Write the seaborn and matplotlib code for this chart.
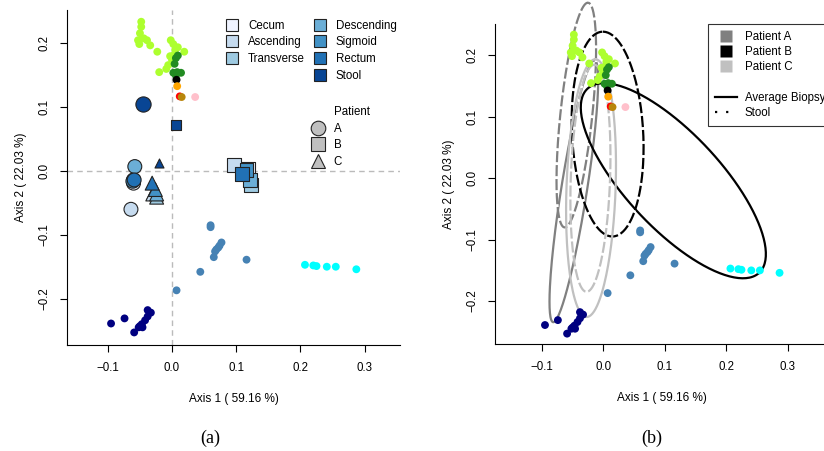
import matplotlib
matplotlib.use("Agg")
import matplotlib.pyplot as plt
from matplotlib.lines import Line2D
import numpy as np
import pandas as pd
import seaborn as sns

# ---- sample points (PCoA axis 1 / axis 2), one list pair per sample group ----
greenyellow_x = [-0.048, -0.048, -0.050, -0.053, -0.051, -0.044, -0.039, -0.034, -0.023, -0.020,
                 -0.002, 0.002, 0.005, 0.009, 0.019, -0.003, 0.000, -0.006, -0.009, 0.003]
greenyellow_y = [0.234, 0.226, 0.216, 0.205, 0.199, 0.208, 0.205, 0.197, 0.187, 0.155,
                 0.205, 0.199, 0.190, 0.194, 0.187, 0.180, 0.174, 0.166, 0.160, 0.182]
forestgreen_x = [0.006, 0.009, 0.004, 0.002, 0.008, 0.014, 0.006]
forestgreen_y = [0.177, 0.181, 0.168, 0.154, 0.155, 0.154, 0.150]
black_x, black_y = [0.007], [0.143]
orange_x, orange_y = [0.008], [0.133]
red_x, red_y = [0.012], [0.117]
gold_x, gold_y = [0.015], [0.116]
pink_x, pink_y = [0.036], [0.116]
steelblue_x = [0.060, 0.060, 0.077, 0.074, 0.072, 0.069, 0.067, 0.065, 0.116, 0.044, 0.007]
steelblue_y = [-0.085, -0.088, -0.112, -0.117, -0.120, -0.123, -0.126, -0.135, -0.139, -0.158, -0.187]
cyan_x = [0.207, 0.220, 0.225, 0.241, 0.255, 0.287]
cyan_y = [-0.147, -0.148, -0.149, -0.150, -0.150, -0.154]
navy_x = [-0.095, -0.074, -0.059, -0.050, -0.047, -0.042, -0.038, -0.038, -0.033, -0.046, -0.052]
navy_y = [-0.239, -0.231, -0.253, -0.243, -0.240, -0.234, -0.228, -0.218, -0.222, -0.245, -0.245]

# ---- per-patient centroids by location ----
locations = ["Cecum", "Ascending", "Transverse", "Descending", "Sigmoid", "Rectum", "Stool"]
patients = ["A", "B", "C"]
a_x = [-0.060, -0.064, -0.060, -0.058, -0.061, -0.059, -0.045]
a_y = [-0.019, -0.060, -0.014, 0.007, -0.016, -0.014, 0.105]
b_x = [0.118, 0.096, 0.123, 0.121, 0.116, 0.109, 0.006]
b_y = [0.003, 0.009, -0.022, -0.014, 0.002, -0.004, 0.072]
c_x = [-0.028, -0.030, -0.024, -0.024, -0.026, -0.031, -0.020]
c_y = [-0.033, -0.036, -0.041, -0.036, -0.029, -0.019, 0.012]

# ---- ellipses for panel (b): centre, semi-axes, angle ----
ell_patient = ["A", "A", "B", "B", "C", "C"]
ell_kind = ["Biopsy", "Stool", "Biopsy", "Stool", "Biopsy", "Stool"]
ell_cx = [-0.048, -0.044, 0.114, 0.007, -0.020, -0.021]
ell_cy = [-0.021, 0.103, -0.004, 0.072, -0.016, 0.000]
ell_a = [0.216, 0.184, 0.205, 0.167, 0.210, 0.185]
ell_b = [0.021, 0.026, 0.077, 0.058, 0.040, 0.032]
ell_ang = [81, 84, -47, 93, 88, 88]

# ---- styles ----
group_colors = {"greenyellow": "#ADFF2F", "forestgreen": "#228B22", "black": "black",
                "orange": "#FFA500", "red": "red", "gold": "#B8860B", "pink": "#FFC0CB",
                "steelblue": "#4682B4", "cyan": "#00FFFF", "navy": "#000080"}
loc_colors = dict(zip(locations, ["#EFF3FF", "#C6DBEF", "#9ECAE1", "#6BAED6",
                                  "#4292C6", "#2171B5", "#084594"]))
pat_colors = {"A": "#808080", "B": "black", "C": "#C0C0C0"}
pat_markers = {"A": "o", "B": "s", "C": "^"}

plt.rcParams["font.family"] = ["Liberation Sans", "DejaVu Sans"]

groups = {"greenyellow": (greenyellow_x, greenyellow_y), "forestgreen": (forestgreen_x, forestgreen_y),
          "black": (black_x, black_y), "orange": (orange_x, orange_y), "red": (red_x, red_y),
          "gold": (gold_x, gold_y), "pink": (pink_x, pink_y), "steelblue": (steelblue_x, steelblue_y),
          "cyan": (cyan_x, cyan_y), "navy": (navy_x, navy_y)}
samples = pd.concat([pd.DataFrame({"x": gx, "y": gy, "group": g}) for g, (gx, gy) in groups.items()],
                    ignore_index=True)

cent = pd.concat([pd.DataFrame({"x": px, "y": py, "location": locations, "patient": p})
                  for p, px, py in zip(patients, [a_x, b_x, c_x], [a_y, b_y, c_y])], ignore_index=True)
biopsy = cent[cent.location != "Stool"]
stool = cent[cent.location == "Stool"]
stool_sizes = {"A": 120, "B": 45, "C": 42}

fig = plt.figure(figsize=(8.24, 4.51), dpi=100)
ax1 = fig.add_axes([67/824, 106/451, 333/824, 335/451])
ax2 = fig.add_axes([495/824, 107/451, 333/824, 320/451])


def style_axes(ax):
    for s in ["top", "right"]:
        ax.spines[s].set_visible(False)
    for s in ["left", "bottom"]:
        ax.spines[s].set_linewidth(0.8)
    ax.set_xticks([-0.1, 0.0, 0.1, 0.2, 0.3])
    ax.set_yticks([-0.2, -0.1, 0.0, 0.1, 0.2])
    ax.set_xticklabels(["\u22120.1", "0.0", "0.1", "0.2", "0.3"])
    ax.set_yticklabels(["\u22120.2", "\u22120.1", "0.0", "0.1", "0.2"], rotation=90, va="center")
    ax.tick_params(length=5, width=0.8, labelsize=8.3, pad=7)
    ax.set_xlabel("Axis 1 ( 59.16 %)", fontsize=8.5, labelpad=14)
    ax.set_ylabel("Axis 2 ( 22.03 %)", fontsize=8.5, labelpad=8)


def ellipse_outline(cx, cy, a, b, ang):
    t = np.linspace(0, 2 * np.pi, 200)
    th = np.deg2rad(ang)
    ex = a * np.cos(t)
    ey = b * np.sin(t)
    return cx + ex * np.cos(th) - ey * np.sin(th), cy + ex * np.sin(th) + ey * np.cos(th)


# ---------------- panel (a) ----------------
ax1.axhline(0, color="#BBBBBB", lw=1, ls=(0, (4, 3)), zorder=0)
ax1.axvline(0, color="#BBBBBB", lw=1, ls=(0, (4, 3)), zorder=0)
sns.scatterplot(data=samples, x="x", y="y", hue="group", palette=group_colors, s=32,
                edgecolor="none", legend=False, ax=ax1, zorder=2)
for p in patients:
    sub = stool[stool.patient == p]
    sns.scatterplot(data=sub, x="x", y="y", hue="location", palette=loc_colors,
                    marker=pat_markers[p], s=stool_sizes[p], edgecolor="#222222", linewidth=0.8,
                    legend=False, ax=ax1, zorder=3)
sns.scatterplot(data=biopsy, x="x", y="y", hue="location", style="patient", palette=loc_colors,
                markers=pat_markers, s=100, edgecolor="#222222", linewidth=0.8,
                legend=False, ax=ax1, zorder=3)
ax1.set_xlim(-0.1636, 0.355)
ax1.set_ylim(-0.2727, 0.2524)
style_axes(ax1)

loc_handles = [Line2D([], [], ls="none", marker="s", markersize=8.5, markerfacecolor=loc_colors[l],
                      markeredgecolor="#222222", markeredgewidth=0.8) for l in locations]
blank = Line2D([], [], ls="none")
handles = loc_handles[:3] + [blank] + loc_handles[3:]
labels = locations[:3] + [""] + locations[3:]
leg1 = ax1.legend(handles, labels, ncol=2, loc="upper left", bbox_to_anchor=(0.462, 0.985),
                  frameon=False, fontsize=8.3, handletextpad=0.75, columnspacing=0.75,
                  labelspacing=0.42, handlelength=1.2, borderaxespad=0)
ax1.add_artist(leg1)
pat_handles = [blank] + [Line2D([], [], ls="none", marker=pat_markers[p], markersize=10.5,
                                markerfacecolor="#BFBFBF", markeredgecolor="#222222",
                                markeredgewidth=0.8) for p in patients]
ax1.legend(pat_handles, ["Patient"] + patients, loc="upper left", bbox_to_anchor=(0.72, 0.728),
           frameon=False, fontsize=8.3, handletextpad=0.75, labelspacing=0.42,
           handlelength=1.2, borderaxespad=0)

# ---------------- panel (b) ----------------
for p, k, cx, cy, a, b, ang in zip(ell_patient, ell_kind, ell_cx, ell_cy, ell_a, ell_b, ell_ang):
    ex, ey = ellipse_outline(cx, cy, a, b, ang)
    if k == "Biopsy":
        ax2.plot(ex, ey, color=pat_colors[p], lw=1.6, clip_on=False, zorder=1)
    else:
        ax2.plot(ex, ey, color=pat_colors[p], lw=1.6, ls=(0, (5, 1.3)), gapcolor="white",
                 clip_on=False, zorder=1)
sns.scatterplot(data=samples, x="x", y="y", hue="group", palette=group_colors, s=32,
                edgecolor="none", legend=False, ax=ax2, zorder=2)
ax2.set_xlim(-0.1764, 0.3659)
ax2.set_ylim(-0.2699, 0.2513)
style_axes(ax2)

leg_handles = [Line2D([], [], ls="none", marker="s", markersize=9, markerfacecolor=pat_colors[p],
                      markeredgecolor="none") for p in patients]
leg_handles += [blank, Line2D([], [], color="black", lw=1.6),
                Line2D([], [], color="black", lw=1.6, ls=(0, (1, 4)))]
leg_labels = ["Patient A", "Patient B", "Patient C", "", "Average Biopsy", "Stool"]
leg2 = ax2.legend(leg_handles, leg_labels, loc="upper left", bbox_to_anchor=(708/824, 1 - 24/451),
                  bbox_transform=fig.transFigure, fontsize=8.3, frameon=True, fancybox=False,
                  edgecolor="black", handlelength=1.9, handletextpad=0.7, labelspacing=0.28,
                  borderpad=0.6, borderaxespad=0)
leg2.get_frame().set_linewidth(0.8)
leg2.set_clip_on(False)

fig.text(210/824, 1 - 438/451, "(a)", ha="center", va="center", fontsize=13,
         family=["Liberation Serif", "DejaVu Serif"])
fig.text(652/824, 1 - 438/451, "(b)", ha="center", va="center", fontsize=13,
         family=["Liberation Serif", "DejaVu Serif"])

fig.savefig("out.png", dpi=100)
